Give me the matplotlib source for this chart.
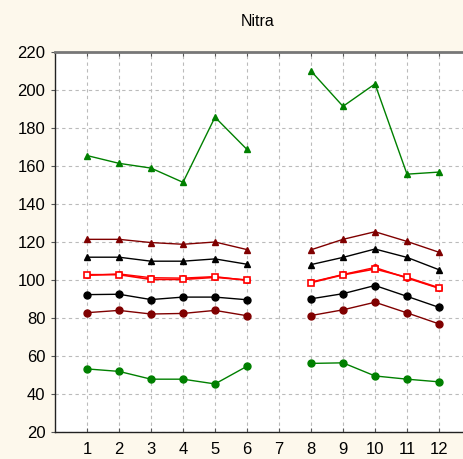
import matplotlib
matplotlib.use("Agg")
import matplotlib.pyplot as plt
import numpy as np

BG = "#FDF8EC"
GREEN = "#008000"
DARK_RED = "#800000"
BLACK = "#000000"
RED = "#FF0000"

months = [1, 2, 3, 4, 5, 6, 8, 9, 10, 11, 12]

max_vals   = [165.5, 161.4, 158.9, 151.4, 185.7, 168.7, 210.0, 191.4, 203.2, 155.7, 156.8]
q90_vals   = [121.4, 121.4, 119.7, 118.8, 120.0, 116.0, 115.9, 121.4, 125.4, 120.3, 114.6]
q75_vals   = [112.0, 112.0, 109.9, 109.9, 111.1, 108.3, 108.1, 111.9, 116.3, 111.9, 105.4]
mean_vals  = [102.8, 102.8, 100.3, 100.3, 101.4, 100.0, 98.6, 102.7, 105.8, 101.4, 95.9]
med_vals   = [102.4, 103.2, 101.2, 101.0, 101.8, 99.8, 98.9, 102.9, 106.6, 101.0, 95.6]
q25_vals   = [92.3, 92.5, 89.7, 91.0, 91.0, 89.6, 90.1, 92.8, 97.1, 91.4, 85.6]
q10_vals   = [82.8, 84.0, 82.1, 82.4, 84.0, 81.2, 81.3, 84.3, 88.3, 82.7, 76.9]
min_vals   = [53.2, 51.9, 47.8, 47.8, 45.3, 54.6, 56.1, 56.4, 49.5, 47.8, 46.4]

xticks = list(range(1, 13))
yticks = list(range(20, 221, 20))

plt.rcParams["font.family"] = ["Liberation Sans", "DejaVu Sans"]

fig = plt.figure(figsize=(4.64, 4.59), dpi=100, facecolor=BG)
ax = fig.add_axes([55 / 464, 27 / 459, 416 / 464, 380 / 459])
ax.set_facecolor("white")


def seg(vals):
    # split at the missing month 7
    return (months[:6], vals[:6]), (months[6:], vals[6:])


series = [
    (max_vals, GREEN, "^", 5, "full"),
    (q90_vals, DARK_RED, "^", 5, "full"),
    (q75_vals, BLACK, "^", 5, "full"),
    (med_vals, RED, "o", 4, "full"),
    (mean_vals, RED, "s", 5, "none"),
    (q25_vals, BLACK, "o", 5, "full"),
    (q10_vals, DARK_RED, "o", 5, "full"),
    (min_vals, GREEN, "o", 5, "full"),
]

for vals, col, mk, ms, fill in series:
    for xs, ys in seg(vals):
        if fill == "none":
            ax.plot(xs, ys, color=col, lw=1.2, marker=mk, ms=ms,
                    mfc="white", mec=col, mew=1.2, zorder=4)
        else:
            ax.plot(xs, ys, color=col, lw=1.0, marker=mk, ms=ms,
                    mfc=col, mec=col, zorder=3)

ax.set_xlim(0, 13)
ax.set_ylim(20, 220)
ax.set_xticks(xticks)
ax.set_yticks(yticks)
ax.tick_params(axis="both", labelsize=12, color="#555555", length=3)
ax.tick_params(axis="x", direction="in", top=True, bottom=True, pad=7)
ax.tick_params(axis="y", direction="out", pad=4)
ax.grid(True, color="#BBBBBB", linestyle=(0, (3, 3)), linewidth=0.8)
ax.set_axisbelow(True)

for side in ["left", "bottom"]:
    ax.spines[side].set_color("#222222")
    ax.spines[side].set_linewidth(1.0)
ax.spines["top"].set_color("#777777")
ax.spines["top"].set_linewidth(2.0)
ax.spines["right"].set_visible(False)

fig.text(0.555, 1 - 22 / 459, "Nitra", ha="center", va="center", fontsize=11.5)

fig.savefig("out.png", dpi=100, facecolor=BG)
